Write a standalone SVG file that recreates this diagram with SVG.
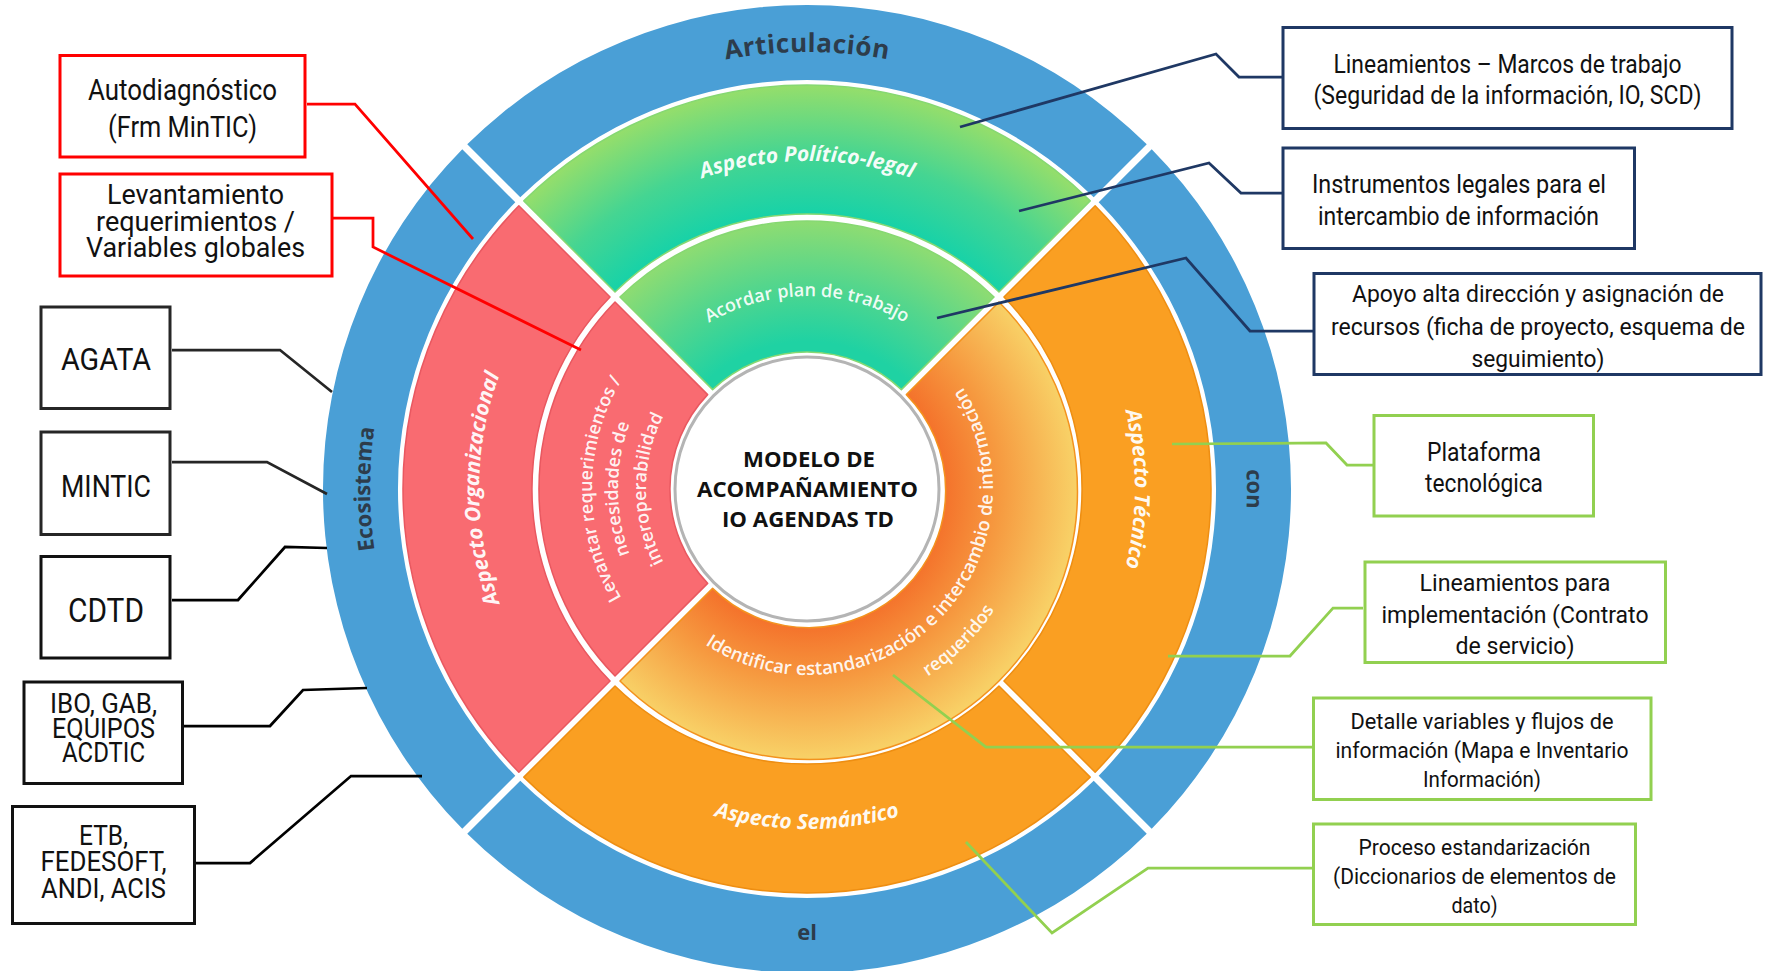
<svg xmlns="http://www.w3.org/2000/svg" width="1765" height="971" viewBox="0 0 1765 971">
<defs>
<style>
.bt{font-family:Roboto,"Liberation Sans",sans-serif;fill:#111;text-anchor:middle;}
.lb{font-family:"Open Sans","DejaVu Sans",sans-serif;font-weight:700;font-size:22px;fill:#2d3c4b;}
.lm{font-family:"Open Sans","DejaVu Sans",sans-serif;font-weight:700;font-style:italic;font-size:21px;fill:#fff;fill-opacity:0.95;}
.li{font-family:"Open Sans","DejaVu Sans",sans-serif;font-weight:600;font-size:18px;fill:#fff;fill-opacity:0.93;}
.ct{font-family:"Open Sans","DejaVu Sans",sans-serif;font-weight:700;font-size:22px;fill:#111;text-anchor:middle;}
.blue{fill:#4A9FD6;}
.red{fill:#F96B71;stroke:#E95860;stroke-width:1.5;stroke-linejoin:round;}
.org{fill:#FA9F22;stroke:#EE8E12;stroke-width:1.5;stroke-linejoin:round;}
.grm{fill:url(#gMid);stroke:#86D872;stroke-width:1.5;stroke-linejoin:round;}
.gri{fill:url(#gIn);stroke:#86D872;stroke-width:1.5;stroke-linejoin:round;}
.ori{fill:url(#gOr);stroke:#F3921E;stroke-width:1.5;stroke-linejoin:round;}
.bx{fill:#fff;stroke-width:3;}
.cn{fill:none;stroke-width:2.75;stroke-linejoin:miter;}
</style>
<radialGradient id="gMid" gradientUnits="userSpaceOnUse" cx="807" cy="489" r="404">
<stop offset="0.68" stop-color="#17D2A8"/>
<stop offset="0.83" stop-color="#45D592"/>
<stop offset="1" stop-color="#95DE6B"/>
</radialGradient>
<radialGradient id="gIn" gradientUnits="userSpaceOnUse" cx="807" cy="489" r="268">
<stop offset="0.55" stop-color="#1FD2A3"/>
<stop offset="0.78" stop-color="#55D68C"/>
<stop offset="1" stop-color="#8EDC72"/>
</radialGradient>
<radialGradient id="gOr" gradientUnits="userSpaceOnUse" cx="807" cy="489" r="268">
<stop offset="0.5" stop-color="#F4702A"/>
<stop offset="0.72" stop-color="#F69A40"/>
<stop offset="1" stop-color="#F8D066"/>
</radialGradient>
<path id="pArt" d="M370,489 A437,437 0 0 1 1244,489"/>
<path id="pEco" d="M807,926 A437,437 0 0 1 807,52"/>
<path id="pCon" d="M807,49 A440,440 0 0 1 807,929"/>
<path id="pPol" d="M479,489 A328,328 0 0 1 1135,489"/>
<path id="pOrg" d="M807,817 A328,328 0 0 1 807,161"/>
<path id="pTec" d="M807,161 A328,328 0 0 1 807,817"/>
<path id="pSem" d="M467,489 A340,340 0 0 0 1147,489"/>
<path id="pAco" d="M614,489 A193,193 0 0 1 1000,489"/>
<path id="pLev1" d="M807,704 A215,215 0 0 1 807,274"/>
<path id="pLev2" d="M807,678 A189,189 0 0 1 807,300"/>
<path id="pLev3" d="M807,650 A161,161 0 0 1 807,328"/>
<path id="pIde" d="M621,489 A186,186 0 1 0 807,303"/>
<path id="pReq" d="M584,489 A223,223 0 1 0 807,266"/>
</defs>
<rect width="1765" height="971" fill="#fff"/>

<g id="wheel">
<g id="ring-outer">
<path class="blue" d="M467.24,144.28 A484,484 0 0 1 1146.76,144.28 L1093.73,197.31 A409,409 0 0 0 520.27,197.31 Z"/>
<path class="blue" d="M1151.72,149.24 A484,484 0 0 1 1151.72,828.76 L1098.69,775.73 A409,409 0 0 0 1098.69,202.27 Z"/>
<path class="blue" d="M1146.76,833.72 A484,484 0 0 1 467.24,833.72 L520.27,780.69 A409,409 0 0 0 1093.73,780.69 Z"/>
<path class="blue" d="M462.28,828.76 A484,484 0 0 1 462.28,149.24 L515.31,202.27 A409,409 0 0 0 515.31,775.73 Z"/>
<text class="lb" style="font-size:26px;letter-spacing:0.5px"><textPath href="#pArt" startOffset="50%" text-anchor="middle">Articulación</textPath></text>
<text class="lb"><textPath href="#pEco" startOffset="50%" text-anchor="middle">Ecosistema</textPath></text>
<text class="lb"><textPath href="#pCon" startOffset="50%" text-anchor="middle">con</textPath></text>
<text class="lb" x="807" y="940" text-anchor="middle">el</text>
</g>
<g id="ring-middle">
<path class="grm" d="M523.81,200.85 A404,404 0 0 1 1090.19,200.85 L998.98,292.06 A275,275 0 0 0 615.02,292.06 Z"/>
<path class="org" d="M1095.15,205.81 A404,404 0 0 1 1095.15,772.19 L1003.94,680.98 A275,275 0 0 0 1003.94,297.02 Z"/>
<path class="org" d="M1090.19,777.15 A404,404 0 0 1 523.81,777.15 L615.02,685.94 A275,275 0 0 0 998.98,685.94 Z"/>
<path class="red" d="M518.85,772.19 A404,404 0 0 1 518.85,205.81 L610.06,297.02 A275,275 0 0 0 610.06,680.98 Z"/>
<text class="lm"><textPath href="#pPol" startOffset="50%" text-anchor="middle">Aspecto Político-legal</textPath></text>
<text class="lm"><textPath href="#pOrg" startOffset="50%" text-anchor="middle">Aspecto Organizacional</textPath></text>
<text class="lm"><textPath href="#pTec" startOffset="50%" text-anchor="middle">Aspecto Técnico</textPath></text>
<text class="lm"><textPath href="#pSem" startOffset="50%" text-anchor="middle">Aspecto Semántico</textPath></text>
</g>
<g id="ring-inner">
<path class="gri" d="M619.97,297.01 A268,268 0 0 1 994.03,297.01 L901.39,389.65 A137,137 0 0 0 712.61,389.65 Z"/>
<path class="ori" d="M998.99,301.97 A268,268 0 0 1 619.97,680.99 L712.61,588.35 A137,137 0 0 0 906.35,394.61 Z"/>
<path class="red" d="M615.01,676.03 A268,268 0 0 1 615.01,301.97 L707.65,394.61 A137,137 0 0 0 707.65,583.39 Z"/>
<text class="li"><textPath href="#pAco" startOffset="50%" text-anchor="middle">Acordar plan de trabajo</textPath></text>
<text class="li"><textPath href="#pLev1" startOffset="50%" text-anchor="middle">Levantar requerimientos /</textPath></text>
<text class="li"><textPath href="#pLev2" startOffset="50%" text-anchor="middle">necesidades de</textPath></text>
<text class="li"><textPath href="#pLev3" startOffset="50%" text-anchor="middle">interoperabilidad</textPath></text>
<text class="li" style="font-size:18.5px"><textPath href="#pIde" startOffset="50%" text-anchor="middle">Identificar estandarización e intercambio de información</textPath></text>
<text class="li"><textPath href="#pReq" startOffset="50%" text-anchor="middle">requeridos</textPath></text>
</g>
<g id="center">
<circle cx="807" cy="489" r="132" fill="#fff" stroke="#B4B4B4" stroke-width="3"/>
<text class="ct" x="809" y="467" textLength="132" lengthAdjust="spacingAndGlyphs">MODELO DE</text>
<text class="ct" x="807.5" y="497" textLength="221" lengthAdjust="spacingAndGlyphs">ACOMPAÑAMIENTO</text>
<text class="ct" x="808" y="527" textLength="172" lengthAdjust="spacingAndGlyphs">IO AGENDAS TD</text>
</g>
</g>

<g id="connectors">
<polyline class="cn" stroke="#FF0000" points="307,104 355,104 473,239"/>
<polyline class="cn" stroke="#FF0000" points="333,218 373,218 373,247 581,350"/>
<polyline class="cn" stroke="#262626" points="172,350 280,350 332,392"/>
<polyline class="cn" stroke="#262626" points="172,462 267,462 327,494"/>
<polyline class="cn" stroke="#000" points="172,600 238,600 285,547 327,548"/>
<polyline class="cn" stroke="#000" points="184,726 270,726 303,690 367,688"/>
<polyline class="cn" stroke="#000" points="196,863 250,863 351,776 422,776"/>
<polyline class="cn" stroke="#1F3864" points="1282,77 1239,77 1216,54 960,127"/>
<polyline class="cn" stroke="#1F3864" points="1282,193 1241,193 1209,163 1019,211"/>
<polyline class="cn" stroke="#1F3864" points="1313,331 1250,331 1186,258 937,318"/>
<polyline class="cn" stroke="#92D050" points="1373,465 1347,465 1326,443 1172,444"/>
<polyline class="cn" stroke="#92D050" points="1363,608 1333,608 1290,656 1168,656"/>
<polyline class="cn" stroke="#92D050" points="1312,747 986,747 893,675"/>
<polyline class="cn" stroke="#92D050" points="1312,868 1148,868 1052,933 966,842"/>
</g>

<g id="box-autodiagnostico">
<rect class="bx" stroke="#FF0000" x="60" y="55.5" width="245" height="101.5"/>
<text class="bt" font-size="30" x="182.5" y="100" textLength="189" lengthAdjust="spacingAndGlyphs">Autodiagnóstico</text>
<text class="bt" font-size="30" x="182.5" y="137" textLength="149" lengthAdjust="spacingAndGlyphs">(Frm MinTIC)</text>
</g>
<g id="box-levantamiento">
<rect class="bx" stroke="#FF0000" x="60" y="174" width="272" height="102"/>
<text class="bt" font-size="28" x="195.5" y="204" textLength="177" lengthAdjust="spacingAndGlyphs">Levantamiento</text>
<text class="bt" font-size="28" x="195.5" y="231" textLength="199" lengthAdjust="spacingAndGlyphs">requerimientos /</text>
<text class="bt" font-size="28" x="195.5" y="257" textLength="219" lengthAdjust="spacingAndGlyphs">Variables globales</text>
</g>
<g id="box-agata">
<rect class="bx" stroke="#262626" x="41" y="307" width="129" height="101.5"/>
<text class="bt" font-size="32" x="106" y="370" textLength="90" lengthAdjust="spacingAndGlyphs">AGATA</text>
</g>
<g id="box-mintic">
<rect class="bx" stroke="#262626" x="41" y="432" width="129" height="102.5"/>
<text class="bt" font-size="32" x="106" y="497" textLength="90" lengthAdjust="spacingAndGlyphs">MINTIC</text>
</g>
<g id="box-cdtd">
<rect class="bx" stroke="#111" x="41" y="556.5" width="129" height="101.5"/>
<text class="bt" font-size="33" x="106" y="622" textLength="76" lengthAdjust="spacingAndGlyphs">CDTD</text>
</g>
<g id="box-ibo">
<rect class="bx" stroke="#111" x="24" y="682" width="158.5" height="101.5"/>
<text class="bt" font-size="27" x="103.5" y="713" textLength="107" lengthAdjust="spacingAndGlyphs">IBO, GAB,</text>
<text class="bt" font-size="27" x="103.5" y="738" textLength="103" lengthAdjust="spacingAndGlyphs">EQUIPOS</text>
<text class="bt" font-size="27" x="103.5" y="762" textLength="83" lengthAdjust="spacingAndGlyphs">ACDTIC</text>
</g>
<g id="box-etb">
<rect class="bx" stroke="#111" x="12.5" y="806.5" width="182" height="117"/>
<text class="bt" font-size="27" x="103.5" y="845" textLength="49" lengthAdjust="spacingAndGlyphs">ETB,</text>
<text class="bt" font-size="27" x="103.5" y="871" textLength="126" lengthAdjust="spacingAndGlyphs">FEDESOFT,</text>
<text class="bt" font-size="27" x="103.5" y="898" textLength="125" lengthAdjust="spacingAndGlyphs">ANDI, ACIS</text>
</g>

<g id="box-lineamientos-marcos">
<rect class="bx" stroke="#1F3864" x="1283" y="27.5" width="449" height="101"/>
<text class="bt" font-size="25" x="1507.5" y="73" textLength="348" lengthAdjust="spacingAndGlyphs">Lineamientos – Marcos de trabajo</text>
<text class="bt" font-size="25" x="1507.5" y="104" textLength="388" lengthAdjust="spacingAndGlyphs">(Seguridad de la información, IO, SCD)</text>
</g>
<g id="box-instrumentos">
<rect class="bx" stroke="#1F3864" x="1283" y="148" width="351.5" height="100.5"/>
<text class="bt" font-size="25" x="1459" y="193" textLength="294" lengthAdjust="spacingAndGlyphs">Instrumentos legales para el</text>
<text class="bt" font-size="25" x="1458.5" y="225" textLength="281" lengthAdjust="spacingAndGlyphs">intercambio de información</text>
</g>
<g id="box-apoyo">
<rect class="bx" stroke="#1F3864" x="1314" y="273.5" width="447" height="101"/>
<text class="bt" font-size="24" x="1538" y="302" textLength="372" lengthAdjust="spacingAndGlyphs">Apoyo alta dirección y asignación de</text>
<text class="bt" font-size="24" x="1538" y="335" textLength="414" lengthAdjust="spacingAndGlyphs">recursos (ficha de proyecto, esquema de</text>
<text class="bt" font-size="24" x="1538" y="367" textLength="133" lengthAdjust="spacingAndGlyphs">seguimiento)</text>
</g>
<g id="box-plataforma">
<rect class="bx" stroke="#92D050" x="1374" y="415.5" width="219.5" height="100.5"/>
<text class="bt" font-size="25" x="1484" y="461" textLength="114" lengthAdjust="spacingAndGlyphs">Plataforma</text>
<text class="bt" font-size="25" x="1484" y="492" textLength="118" lengthAdjust="spacingAndGlyphs">tecnológica</text>
</g>
<g id="box-lineamientos-impl">
<rect class="bx" stroke="#92D050" x="1365" y="562" width="300.5" height="100.5"/>
<text class="bt" font-size="24" x="1515" y="591" textLength="191" lengthAdjust="spacingAndGlyphs">Lineamientos para</text>
<text class="bt" font-size="24" x="1515" y="623" textLength="267" lengthAdjust="spacingAndGlyphs">implementación (Contrato</text>
<text class="bt" font-size="24" x="1515" y="654" textLength="119" lengthAdjust="spacingAndGlyphs">de servicio)</text>
</g>
<g id="box-detalle">
<rect class="bx" stroke="#92D050" x="1313.5" y="698" width="337.5" height="101.5"/>
<text class="bt" font-size="22.5" x="1482" y="729" textLength="263" lengthAdjust="spacingAndGlyphs">Detalle variables y flujos de</text>
<text class="bt" font-size="22.5" x="1482" y="758" textLength="293" lengthAdjust="spacingAndGlyphs">información (Mapa e Inventario</text>
<text class="bt" font-size="22.5" x="1482" y="787" textLength="118" lengthAdjust="spacingAndGlyphs">Información)</text>
</g>
<g id="box-proceso">
<rect class="bx" stroke="#92D050" x="1313.5" y="824" width="322" height="100.5"/>
<text class="bt" font-size="22.5" x="1474.5" y="855" textLength="232" lengthAdjust="spacingAndGlyphs">Proceso estandarización</text>
<text class="bt" font-size="22.5" x="1474.5" y="884" textLength="283" lengthAdjust="spacingAndGlyphs">(Diccionarios de elementos de</text>
<text class="bt" font-size="22.5" x="1474.5" y="913" textLength="46" lengthAdjust="spacingAndGlyphs">dato)</text>
</g>
</svg>
